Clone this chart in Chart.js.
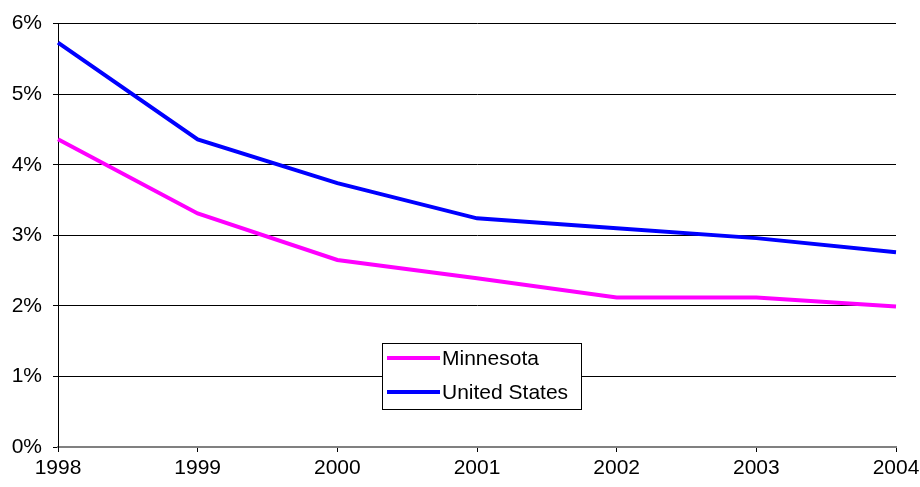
<!doctype html>
<html lang="en">
  <head>
    <meta charset="utf-8">
    <title>Minnesota vs United States</title>
    <style>
      * { margin: 0; padding: 0; }
      body { background: white; }
      canvas { display: block; }
    </style>
  </head>
  <body>
    <canvas id="myChart" width="920" height="487"></canvas>

    <script src="https://cdn.jsdelivr.net/npm/chart.js@4.2.0/dist/chart.umd.min.js"></script>
    <script>
    // data block
    const years = ['1998', '1999', '2000', '2001', '2002', '2003', '2004'];
    const minnesota = [4.36, 3.31, 2.65, 2.39, 2.12, 2.12, 1.99];
    const unitedStates = [5.73, 4.36, 3.74, 3.24, 3.10, 2.96, 2.76];
    const yTicks = [0, 1, 2, 3, 4, 5, 6];

    const font = { family: 'Arial, "Liberation Sans", sans-serif', size: 21 };

    const data = {
      labels: years,
      datasets: [{
        label: 'Minnesota',
        data: minnesota,
        borderColor: '#FF00FF',
        backgroundColor: '#FF00FF',
        borderWidth: 4,
        pointRadius: 0,
        tension: 0
      }, {
        label: 'United States',
        data: unitedStates,
        borderColor: '#0000FF',
        backgroundColor: '#0000FF',
        borderWidth: 4,
        pointRadius: 0,
        tension: 0
      }]
    };

    // legend drawn inside the plot, boxed
    const boxLegend = {
      id: 'boxLegend',
      afterDraw(chart) {
        const { ctx } = chart;
        const x = 382, y = 343, w = 199, h = 66;
        ctx.save();
        ctx.fillStyle = '#fff';
        ctx.fillRect(x, y, w, h);
        ctx.strokeStyle = '#000';
        ctx.lineWidth = 1;
        ctx.strokeRect(x + 0.5, y + 0.5, w, h);
        ctx.font = font.size + 'px ' + font.family;
        ctx.textBaseline = 'middle';
        chart.data.datasets.forEach((ds, i) => {
          const ly = y + 15 + i * 34;
          ctx.strokeStyle = ds.borderColor;
          ctx.lineWidth = 4;
          ctx.beginPath();
          ctx.moveTo(x + 5, ly);
          ctx.lineTo(x + 58, ly);
          ctx.stroke();
          ctx.fillStyle = '#000';
          ctx.fillText(ds.label, x + 60, ly + 1);
        });
        ctx.restore();
      }
    };

    // config block
    const config = {
      type: 'line',
      data: data,
      options: {
        responsive: false,
        animation: false,
        layout: { padding: { top: 23, right: 24, left: 0, bottom: 0 } },
        plugins: {
          legend: { display: false },
          tooltip: { enabled: false }
        },
        scales: {
          x: {
            offset: false,
            grid: {
              drawOnChartArea: false,
              drawTicks: true,
              tickLength: 5,
              color: '#000'
            },
            border: { color: '#808080', width: 2 },
            ticks: { color: '#000', font: font, padding: 4, maxRotation: 0, autoSkip: false },
            afterFit(scale) {
              scale.height = 40;
              scale.paddingRight = 0;
              scale.paddingLeft = 0;
            }
          },
          y: {
            min: 0,
            max: 6,
            afterBuildTicks(scale) { scale.ticks = yTicks.map(v => ({ value: v })); },
            grid: { color: '#000', tickLength: 5, lineWidth: 1 },
            border: { color: '#000', width: 1 },
            ticks: {
              color: '#000',
              font: font,
              padding: 11,
              callback: v => v + '%'
            },
            afterFit(scale) { scale.width = 58; }
          }
        }
      },
      plugins: [boxLegend]
    };

    // init render block
    const myChart = new Chart(document.getElementById('myChart'), config);
    </script>
  </body>
</html>
